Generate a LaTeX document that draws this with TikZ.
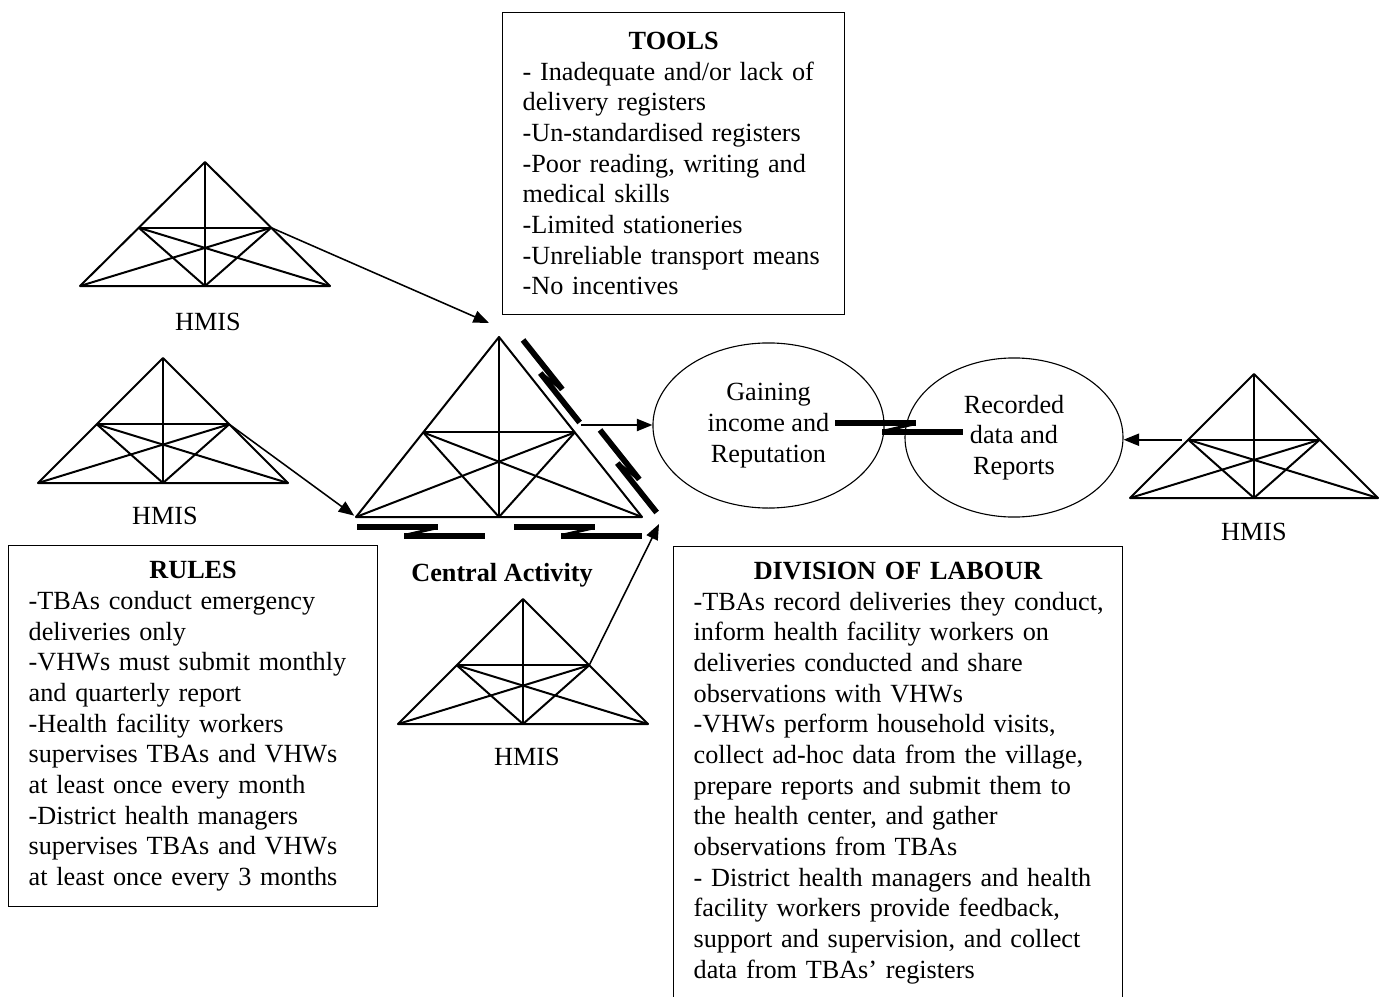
\documentclass[tikz,border=0pt]{standalone}
\usepackage{fontspec}
\setmainfont{Liberation Serif}
\usetikzlibrary{calc,shapes.geometric,arrows.meta}

\tikzset{
  triline/.style={line width=0.9pt, line join=round},
  clash/.style={line width=2.6pt},
  link/.style={line width=0.7pt, -{Triangle[length=7pt,width=5.5pt]}},
  textbox/.style={draw, line width=0.6pt, anchor=north west,
    inner xsep=9pt, inner ysep=7pt,
    execute at begin node={\raggedright\rightskip=-8pt plus 1fil
      \hyphenpenalty=10000 \exhyphenpenalty=10000}},
  goal/.style={draw, ellipse, line width=0.5pt, align=center, inner sep=0pt},
}

% activity triangle: name, apex x, apex y, half base, height
\newcommand{\hmistriangle}[5]{%
  \coordinate (#1_a) at (#2,#3);
  \coordinate (#1_b) at ({#2-#4},{#3+#5});
  \coordinate (#1_c) at ({#2+#4},{#3+#5});
  \coordinate (#1_m) at (#2,{#3+#5});
  \coordinate (#1_l) at ($(#1_a)!0.53!(#1_b)$);
  \coordinate (#1_r) at ($(#1_a)!0.53!(#1_c)$);
  \draw[triline] (#1_b) -- (#1_a) -- (#1_c) -- cycle;
  \draw[triline] (#1_a) -- (#1_m);
  \draw[triline] (#1_l) -- (#1_r);
  \draw[triline] (#1_l) -- (#1_m) -- (#1_r);
  \draw[triline] (#1_l) -- (#1_c);
  \draw[triline] (#1_r) -- (#1_b);
}

% contradiction mark: start, angle, scale
\newcommand{\clashmark}[3]{%
  \begin{scope}[shift={#1}, rotate=#2, scale=#3]
    \draw[clash] (0,0) -- (81,0);
    \draw[clash] (47,9) -- (128,9);
    \draw[clash, line width=1.3pt] (79,1) -- (49,8);
  \end{scope}
}

\begin{document}
\begin{tikzpicture}[x=0.45pt, y=-0.45pt, font=\fontsize{11.8}{13.8}\selectfont]

\useasboundingbox (0,0) rectangle (1390,997);
\clip (0,0) rectangle (1390,997);

% HMIS triangles
\hmistriangle{top}{205}{162}{125}{124}
\hmistriangle{mid}{163}{358}{125}{125}
\hmistriangle{act}{499}{337}{143}{180}
\hmistriangle{low}{523}{599}{125}{125}
\hmistriangle{far}{1254}{374}{124}{124}

\node (top_lbl) at (208,322) {HMIS};
\node (mid_lbl) at (165,516) {HMIS};
\node (low_lbl) at (527,757) {HMIS};
\node (far_lbl) at (1254,532) {HMIS};
\node[font=\fontsize{11.8}{13.8}\selectfont\bfseries] (act_lbl) at (502,575) {Central Activity};

% outcomes
\node[goal, minimum width=104pt, minimum height=74.3pt] (gain) at (768.5,425.5)
  {Gaining\\income and\\Reputation};
\node[goal, minimum width=98.1pt, minimum height=71.6pt] (rec) at (1014,437.5)
  {Recorded\\data and\\Reports};

% boxes
\node[textbox, text width=135.9pt, minimum height=135.9pt] (tools) at (502,12)
  {{\centering\textbf{TOOLS}\par}
   - Inadequate and/or lack of\\
   delivery registers\\
   -Un-standardised registers\\
   -Poor reading, writing and\\
   medical skills\\
   -Limited stationeries\\
   -Unreliable transport means\\
   -No incentives};

\node[textbox, text width=148pt, minimum height=162.5pt] (rules) at (8,545)
  {{\centering\textbf{RULES}\par}
   -TBAs conduct emergency\\
   deliveries only\\
   -VHWs must submit monthly\\
   and quarterly report\\
   -Health facility workers\\
   supervises TBAs and VHWs\\
   at least once every month\\
   -District health managers\\
   supervises TBAs and VHWs\\
   at least once every 3 months};

\node[textbox, text width=184pt] (labour) at (673,546)
  {{\centering\textbf{DIVISION OF LABOUR}\par}
   -TBAs record deliveries they conduct,\\
   inform health facility workers on\\
   deliveries conducted and share\\
   observations with VHWs\\
   -VHWs perform household visits,\\
   collect ad-hoc data from the village,\\
   prepare reports and submit them to\\
   the health center, and gather\\
   observations from TBAs\\
   - District health managers and health\\
   facility workers provide feedback,\\
   support and supervision, and collect\\
   data from TBAs' registers};

% arrows
\coordinate (act_top) at (489,323);
\coordinate (act_low) at (659,524);
\coordinate (act_out) at (581,425);
\draw[link] (top_r) -- (act_top);
\draw[link, shorten >=1pt] (mid_r) -- (act_b);
\draw[link] (low_r) -- (act_low);
\draw[link] (act_out) -- (act_out -| gain.west);
\draw[link, shorten <=3pt] (far_l) -- (far_l -| rec.east);

% contradictions
\clashmark{(523,340)}{-51.5}{0.78}
\clashmark{(600,430)}{-51.5}{0.78}
\clashmark{(357,527)}{0}{1}
\clashmark{(514,527)}{0}{1}
\clashmark{(835,423)}{0}{1}

\end{tikzpicture}
\end{document}
